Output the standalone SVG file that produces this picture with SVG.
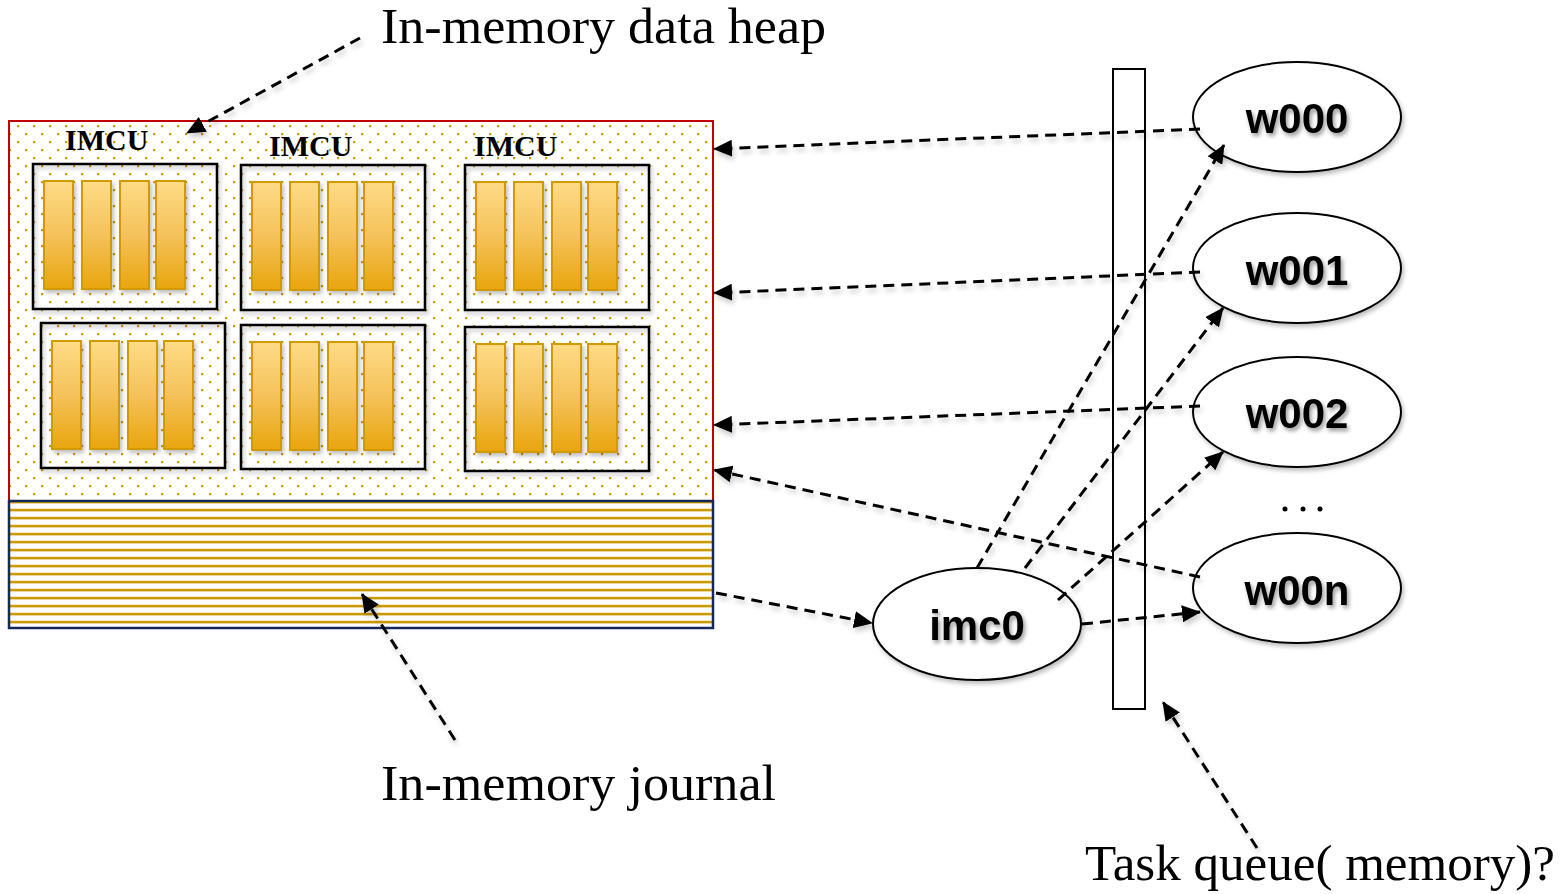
<svg xmlns="http://www.w3.org/2000/svg" width="1563" height="894" viewBox="0 0 1563 894">
<style>
.lbl{font-family:"Liberation Serif","Times New Roman",serif;fill:#000;font-size:50px}
.imcu{font-family:"Liberation Serif","Times New Roman",serif;font-weight:bold;font-size:30px;fill:#000}
.node{font-family:"Liberation Sans",Arial,sans-serif;font-weight:bold;font-size:42px;fill:#000;text-anchor:middle;filter:url(#tsh)}
.ell{fill:#fff;stroke:#000;stroke-width:2;filter:url(#sh)}
.box{fill:none;stroke:#000;stroke-width:2.5;filter:url(#sh)}
.bar{fill:url(#barg);stroke:#d09a06;stroke-width:2;filter:url(#sh)}
.con{fill:none;stroke:#000;stroke-width:3;stroke-dasharray:11 7;marker-end:url(#arr)}
</style>
<defs>
<pattern id="dots" patternUnits="userSpaceOnUse" width="16" height="16">
<rect x="9" y="5" width="2.2" height="2.2" fill="#cc9900"/>
<rect x="1" y="13" width="2.2" height="2.2" fill="#cc9900"/>
</pattern>
<pattern id="stripes" patternUnits="userSpaceOnUse" width="16" height="8">
<rect x="0" y="4.8" width="16" height="2.6" fill="#cc9900"/>
</pattern>
<linearGradient id="barg" x1="0" y1="0" x2="0" y2="1">
<stop offset="0" stop-color="#fedb86"/>
<stop offset="0.5" stop-color="#f5c25a"/>
<stop offset="1" stop-color="#e9a50d"/>
</linearGradient>
<filter id="sh" x="-20%" y="-20%" width="140%" height="140%">
<feDropShadow dx="2" dy="3" stdDeviation="2" flood-color="#000" flood-opacity="0.25"/>
</filter>
<filter id="tsh" x="-20%" y="-30%" width="140%" height="160%">
<feDropShadow dx="2" dy="3" stdDeviation="2" flood-color="#000" flood-opacity="0.4"/>
</filter>
<filter id="lsh" x="-10%" y="-10%" width="120%" height="120%">
<feDropShadow dx="2" dy="4" stdDeviation="2.5" flood-color="#000" flood-opacity="0.2"/>
</filter>
<marker id="arr" markerUnits="userSpaceOnUse" markerWidth="19" markerHeight="17" refX="18" refY="8.5" orient="auto">
<path d="M0,0 L19,8.5 L0,17 z" fill="#000"/>
</marker>
</defs>
<rect width="1563" height="894" fill="#fff"/>

<g id="heap">
<rect x="9" y="121" width="704" height="380" fill="#fff"/>
<rect x="9" y="121" width="704" height="380" fill="url(#dots)" stroke="#c00000" stroke-width="2"/>
</g>
<g id="journal">
<rect x="9" y="501" width="704" height="127" fill="#fff"/>
<rect x="9" y="501" width="704" height="127" fill="url(#stripes)" stroke="#15285a" stroke-width="2.5"/>
</g>

<g id="imcu1">
<rect class="box" x="33" y="164" width="184" height="145"/>
<rect class="bar" x="44" y="181" width="29" height="108"/>
<rect class="bar" x="82" y="181" width="29" height="108"/>
<rect class="bar" x="120" y="181" width="29" height="108"/>
<rect class="bar" x="156" y="181" width="29" height="108"/>
<text class="imcu" x="65" y="150">IMCU</text>
</g>
<g id="imcu2">
<rect class="box" x="241" y="165" width="184" height="145"/>
<rect class="bar" x="252" y="182" width="29" height="108"/>
<rect class="bar" x="290" y="182" width="29" height="108"/>
<rect class="bar" x="328" y="182" width="29" height="108"/>
<rect class="bar" x="364" y="182" width="29" height="108"/>
<text class="imcu" x="269" y="156">IMCU</text>
</g>
<g id="imcu3">
<rect class="box" x="465" y="165" width="184" height="145"/>
<rect class="bar" x="476" y="182" width="29" height="108"/>
<rect class="bar" x="514" y="182" width="29" height="108"/>
<rect class="bar" x="552" y="182" width="29" height="108"/>
<rect class="bar" x="588" y="182" width="29" height="108"/>
<text class="imcu" x="474" y="156">IMCU</text>
</g>
<g id="imcu4">
<rect class="box" x="41" y="323" width="184" height="145"/>
<rect class="bar" x="52" y="341" width="29" height="108"/>
<rect class="bar" x="90" y="341" width="29" height="108"/>
<rect class="bar" x="128" y="341" width="29" height="108"/>
<rect class="bar" x="164" y="341" width="29" height="108"/>
</g>
<g id="imcu5">
<rect class="box" x="241" y="325" width="184" height="144"/>
<rect class="bar" x="252" y="342" width="29" height="108"/>
<rect class="bar" x="290" y="342" width="29" height="108"/>
<rect class="bar" x="328" y="342" width="29" height="108"/>
<rect class="bar" x="364" y="342" width="29" height="108"/>
</g>
<g id="imcu6">
<rect class="box" x="465" y="327" width="184" height="144"/>
<rect class="bar" x="476" y="344" width="29" height="108"/>
<rect class="bar" x="514" y="344" width="29" height="108"/>
<rect class="bar" x="552" y="344" width="29" height="108"/>
<rect class="bar" x="588" y="344" width="29" height="108"/>
</g>

<g id="queue">
<rect x="1113" y="69" width="32" height="640" fill="none" stroke="#000" stroke-width="2"/>
</g>

<g id="w000"><ellipse class="ell" cx="1297" cy="117" rx="104" ry="55"/><text class="node" x="1297" y="133">w000</text></g>
<g id="w001"><ellipse class="ell" cx="1297" cy="268" rx="104" ry="55"/><text class="node" x="1297" y="285">w001</text></g>
<g id="w002"><ellipse class="ell" cx="1297" cy="412" rx="104" ry="55"/><text class="node" x="1297" y="428">w002</text></g>
<g id="w00n"><ellipse class="ell" cx="1297" cy="588" rx="104" ry="55"/><text class="node" x="1297" y="605">w00n</text></g>
<g id="imc0"><ellipse class="ell" cx="977" cy="624" rx="104" ry="56"/><text class="node" x="977" y="640">imc0</text></g>

<g id="connectors" filter="url(#lsh)">
<path class="con" d="M360,38 L187,133"/>
<path class="con" d="M1200,129 L714,149"/>
<path class="con" d="M1200,272 L714,293"/>
<path class="con" d="M1200,406 L714,425"/>
<path class="con" d="M1200,577 L714,470"/>
<path class="con" d="M716,593 L872,623"/>
<path class="con" d="M977,568 L1224,145"/>
<path class="con" d="M1025,568 L1223,308"/>
<path class="con" d="M1058,600 L1223,452"/>
<path class="con" d="M1082,624 L1200,612"/>
<path class="con" d="M455,740 L362,594"/>
<path class="con" d="M1257,848 L1163,702"/>
</g>

<g id="ellipsis">
<circle cx="1285" cy="509" r="2.5" fill="#000"/>
<circle cx="1303" cy="509" r="2.5" fill="#000"/>
<circle cx="1320" cy="509" r="2.5" fill="#000"/>
</g>

<g id="labels">
<text class="lbl" x="381" y="43" textLength="445" lengthAdjust="spacingAndGlyphs">In-memory data heap</text>
<text class="lbl" x="381" y="800" textLength="395" lengthAdjust="spacingAndGlyphs">In-memory journal</text>
<text class="lbl" x="1085" y="880" textLength="470" lengthAdjust="spacingAndGlyphs">Task queue( memory)?</text>
</g>
</svg>
